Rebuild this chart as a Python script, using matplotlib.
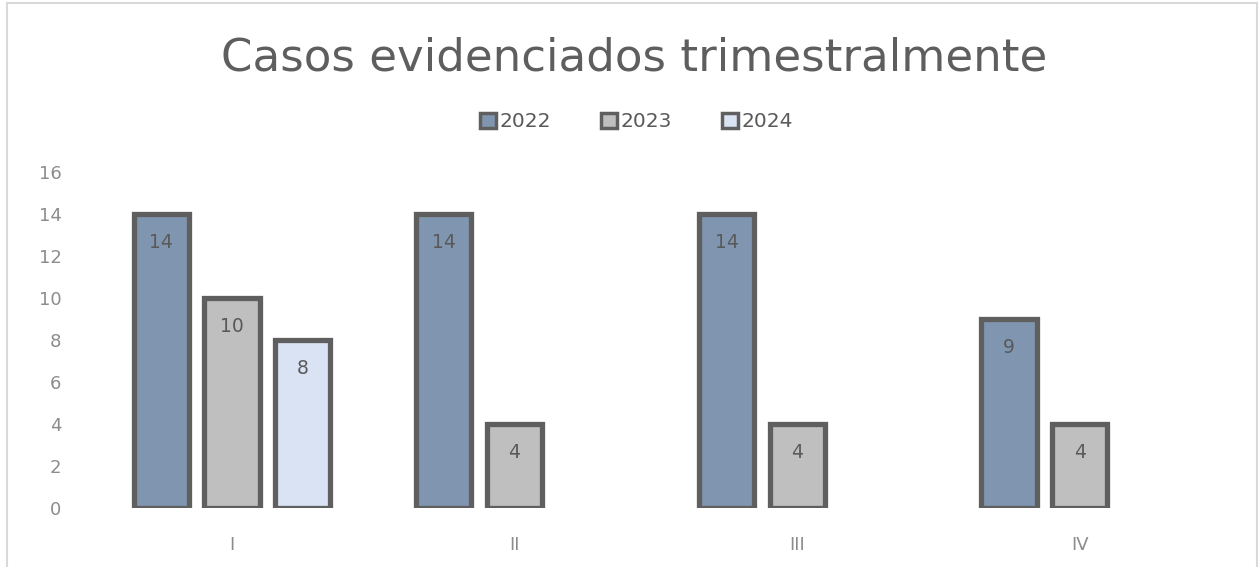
import numpy as np
import matplotlib
matplotlib.use('Agg')
import matplotlib.pyplot as plt
from matplotlib.patches import Rectangle

# Chart data
quarters = ['I', 'II', 'III', 'IV']
years = ['2022', '2023', '2024']
cases_2022 = [14, 14, 14, 9]
cases_2023 = [10, 4, 4, 4]
cases_2024 = [8, 0, 0, 0]

colors = ['#8096b0', '#bfbfbf', '#dae3f3']
edge = '#5f5f5f'
text_grey = '#595959'

plt.rcParams['font.family'] = ['DejaVu Sans']

fig = plt.figure(figsize=(12.6, 5.67), dpi=100)
ax = fig.add_axes([0.072, 0.104, 0.897, 0.593])

x = np.arange(len(quarters))
width = 0.195
step = 0.25
series = [cases_2022, cases_2023, cases_2024]
for i, (vals, col, yr) in enumerate(zip(series, colors, years)):
    pos = x + (i - 1) * step
    vals = np.array(vals, dtype=float)
    shown = vals > 0
    bars = ax.bar(pos[shown], vals[shown], width, color=col, edgecolor=edge,
                  linewidth=3.8, label=yr)
    for b, v in zip(bars, vals[shown]):
        ax.text(b.get_x() + b.get_width() / 2, v - 1.35, f'{int(v)}',
                ha='center', va='center', fontsize=13.5, color=text_grey)

ax.set_xlim(-0.5, 3.5)
ax.set_ylim(0, 16)
ax.set_yticks(range(0, 17, 2))
ax.set_xticks(x)
ax.set_xticklabels(quarters)
ax.tick_params(axis='both', length=0, colors='#8c8c8c', labelsize=13)
ax.tick_params(axis='y', pad=21)
ax.tick_params(axis='x', pad=20)
for s in ax.spines.values():
    s.set_visible(False)

fig.text(0.503, 0.898, 'Casos evidenciados trimestralmente', ha='center',
         va='center', fontsize=32.5, color='#5e5e5e')

leg = fig.legend(loc='center', bbox_to_anchor=(0.505, 0.785), ncol=3,
                 frameon=False, fontsize=14.5, handlelength=0.8, handleheight=0.8,
                 handletextpad=0.15, columnspacing=2.5)
for t in leg.get_texts():
    t.set_color(text_grey)
for h in leg.legend_handles:
    h.set_linewidth(2.5)

fig.add_artist(Rectangle((0.0055, -0.1), 0.9925, 1.095, transform=fig.transFigure,
                         fill=False, edgecolor='#d9d9d9', linewidth=1.5))

fig.savefig('out.png', dpi=100)
